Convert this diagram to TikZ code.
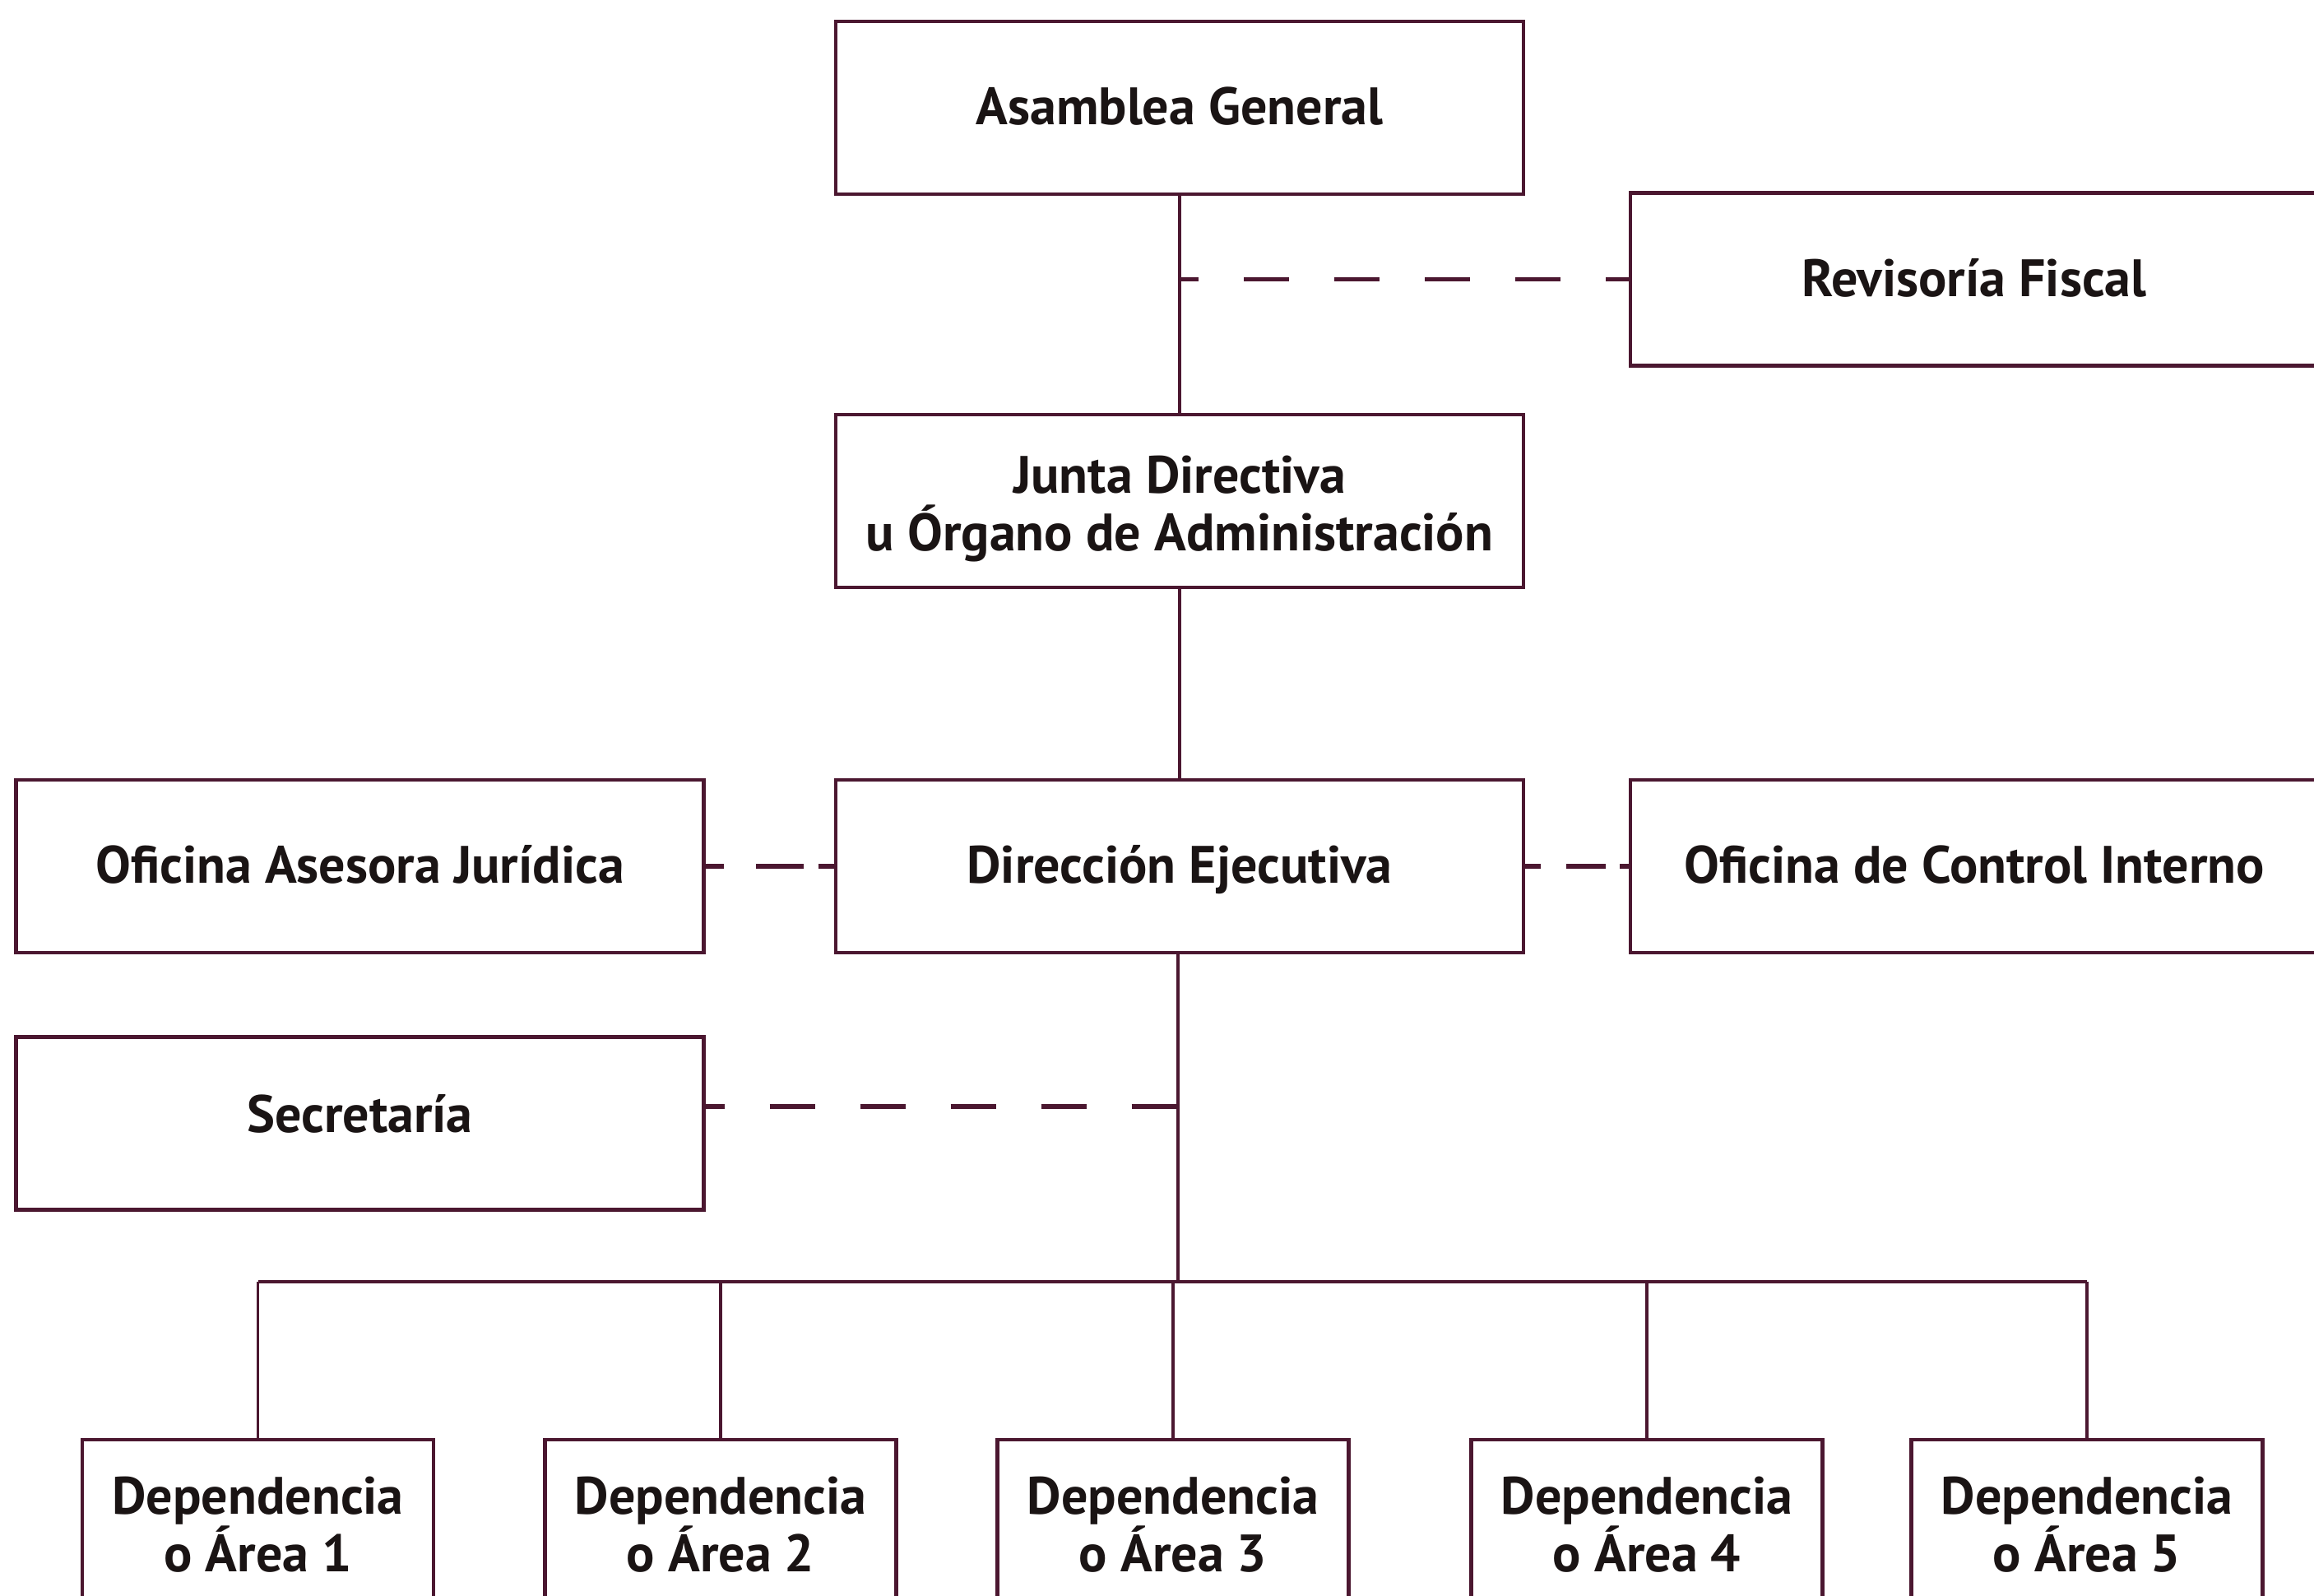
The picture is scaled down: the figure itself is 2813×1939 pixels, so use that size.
\documentclass[tikz,border=0pt]{standalone}
\usepackage{fontspec}
\setmainfont{PT Sans}
\usetikzlibrary{calc}
\definecolor{maroon}{HTML}{4B1730}
\definecolor{ink}{HTML}{1A1414}
\tikzset{
  txt/.style={inner sep=0pt, align=center, text=ink, font=\bfseries\fontsize{16}{17.5}\selectfont},
  bigbox/.style={txt, draw=maroon, line width=1.1pt, rectangle, minimum width=209pt, minimum height=52.5pt,
    text height=10.3pt, text depth=0pt},
  depbox/.style={txt, draw=maroon, line width=1.1pt, rectangle, minimum width=106.75pt, minimum height=51.5pt},
  link/.style={draw=maroon, line width=0.85pt},
  buslink/.style={draw=maroon, line width=1.1pt},
  dashlink/.style={draw=maroon, line width=1.3pt, dash pattern=on 13.75pt off 13.75pt, dash phase=8pt}
}
\begin{document}
\begin{tikzpicture}[x=0.25pt,y=-0.25pt]
\useasboundingbox (0,0) rectangle (2813,1939);
\clip (0,0) rectangle (2813,1939);
\fill[white] (0,0) rectangle (2813,1939);

\node[bigbox] (asam) at (1434,131) {Asamblea General};
\node[bigbox] (rev) at (2400,339.5) {Revisoría Fiscal};
\node[bigbox] (junta) at (1434,609) {};
\node[txt] (juntatext) at (1434,618.5) {Junta Directiva\\u Órgano de Administración};
\node[bigbox] (dir) at (1434,1053) {Dirección Ejecutiva};
\node[bigbox] (ctrl) at (2400,1053) {Oficina de Control Interno};
\node[bigbox] (ase) at (437.5,1053) {Oficina Asesora Jurídica};
\node[bigbox, text height=9pt, text depth=3.3pt] (sec) at (437.5,1365.5) {Secretaría};

\node[depbox] (d1) at (313.5,1853) {Dependencia\\o Área 1};
\node[depbox] (d2) at (876,1853) {Dependencia\\o Área 2};
\node[depbox] (d3) at (1426,1853) {Dependencia\\o Área 3};
\node[depbox] (d4) at (2002,1853) {Dependencia\\o Área 4};
\node[depbox] (d5) at (2537,1853) {Dependencia\\o Área 5};

\coordinate (bus) at (1432,1558);
\coordinate (secj) at (1432,1345);

% trunk
\draw[link] (asam.south) -- (junta.north);
\draw[link] (junta.south) -- (dir.north);
\draw[link] (dir.south -| bus) -- (bus);

% bus
\draw[buslink] (d1.north |- bus) -- (d5.north |- bus);
\foreach \d in {d1,d2,d3,d4,d5}{
  \draw[link] (\d.north |- bus) -- (\d.north);
}

% dashed staff links
\draw[dashlink] (asam.south |- rev.west) -- (rev.west);
\draw[dashlink, dash pattern=on 5.5pt off 9.75pt on 14.5pt off 4.5pt on 10pt, dash phase=0pt] (ase.east) -- (dir.west);
\draw[dashlink, dash pattern=on 4.75pt off 7.75pt on 12pt off 4.25pt on 10pt, dash phase=0pt] (dir.east) -- (ctrl.west);
\draw[dashlink] (sec.east |- secj) -- (secj);
\end{tikzpicture}
\end{document}
